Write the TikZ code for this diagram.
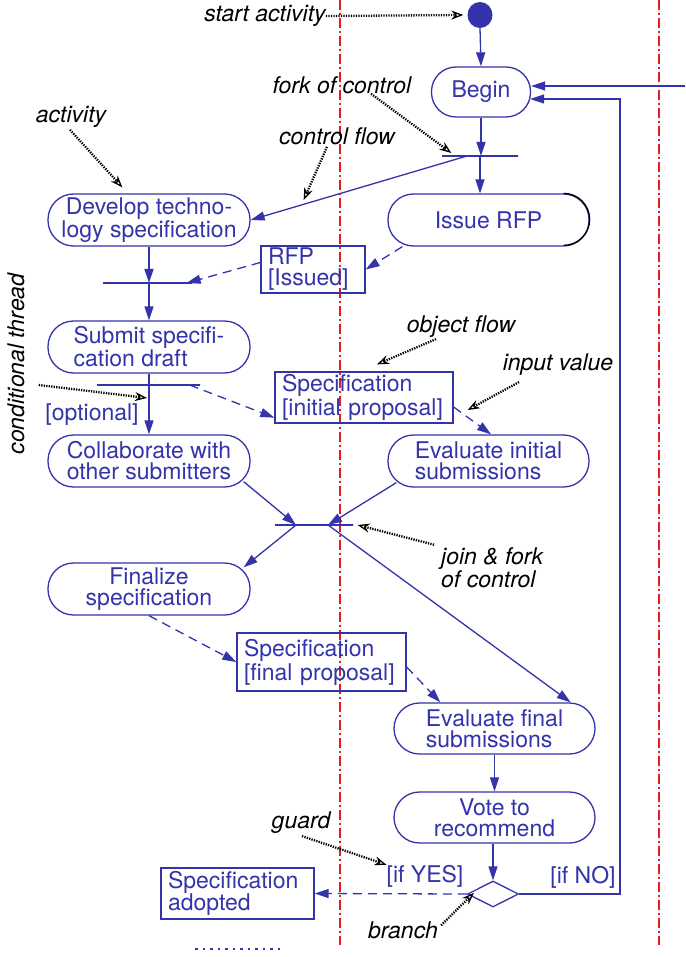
\documentclass[tikz,border=0pt]{standalone}
\usepackage{fontspec}
\setmainfont{TeX Gyre Heros}
\usetikzlibrary{arrows.meta,shapes.geometric,calc}
\definecolor{umlblue}{RGB}{51,51,170}
\definecolor{swred}{RGB}{225,30,30}
\tikzset{
  txt/.style={font=\fontsize{23}{21}\selectfont},
  act/.style={txt, draw=umlblue, line width=1.3pt, rounded corners=25.5pt, minimum width=202pt, minimum height=52pt, text=umlblue, align=center, inner sep=2pt},
  obj/.style={txt, draw=umlblue, line width=1.3pt, text=umlblue, align=left, inner xsep=7pt, inner ysep=2pt},
  bar/.style={draw=umlblue, line width=1.3pt, minimum height=0pt, inner sep=0pt},
  flow/.style={umlblue, line width=1.3pt, -{Triangle[length=14pt,width=9pt]}},
  oflow/.style={flow, dash pattern=on 9pt off 6pt},
  note/.style={font=\fontsize{23}{23}\selectfont\itshape, inner sep=0pt},
  guardtxt/.style={txt, text=umlblue, inner sep=0pt},
  pointer/.style={black, line width=2.3pt, dash pattern=on 1.3pt off 1.2pt, -{Stealth[open,length=12pt,width=9pt,line width=1.3pt]}},
  lane/.style={swred, line width=1.3pt, dash pattern=on 10pt off 3pt on 2pt off 3pt}
}
\begin{document}
\begin{tikzpicture}[x=1pt,y=-1pt]
\useasboundingbox (0,0) rectangle (685,957);
% swimlane separators
\draw[lane] (340,0) -- (340,945);
\draw[lane] (659,0) -- (659,945);

% activity nodes
\node[ellipse, fill=umlblue, minimum width=25pt, minimum height=26pt, inner sep=0pt] (start) at (480,15) {};
\node[act, minimum width=99pt, minimum height=50pt, rounded corners=24.5pt] (begin) at (481,92) {Begin};
\node[bar, minimum width=76pt] (fork1) at (480,156) {};
\node[act] (develop) at (149,220) {Develop techno-\\logy specification};
\node[act, minimum width=201pt] (issue) at (488.5,220) {Issue RFP};
\draw[black, line width=1.3pt] ($(issue.north east)+(-26,0)$) arc[start angle=90, end angle=-90, radius=26pt];
\node[bar, minimum width=89pt] (bar2) at (147.5,283) {};
\node[obj, text width=90pt, minimum height=47pt] (rfp) at (313,269.5) {RFP\\{[Issued]}};
\node[act, align=left] (submit) at (149,347) {Submit specifi-\\cation draft};
\node[bar, minimum width=103pt] (bar3) at (148.5,385) {};
\node[obj, text width=164pt, minimum height=51pt, font=\fontsize{23}{24}\selectfont] (spec1) at (364,397.5) {Specification\\{[initial proposal]}};
\node[act] (collab) at (149,461) {Collaborate with\\other submitters};
\node[act, minimum width=201pt, align=left] (evalinit) at (488.5,461) {Evaluate initial\\submissions};
\node[bar, minimum width=78pt] (join) at (314,525) {};
\node[act] (final) at (149,589) {Finalize\\specification};
\node[obj, text width=155pt, minimum height=58pt, font=\fontsize{23}{24}\selectfont] (spec2) at (321.5,662) {Specification\\{[final proposal]}};
\node[act, minimum width=201pt, minimum height=51pt, align=left] (evalfin) at (494.5,728.5) {Evaluate final\\submissions};
\node[act, minimum width=201pt, minimum height=51pt] (vote) at (494.5,817.5) {Vote to\\recommend};
\node[diamond, draw=umlblue, line width=1.3pt, minimum width=51pt, minimum height=26pt, inner sep=0pt] (branch) at (493,894) {};
\node[obj, text width=139pt, minimum height=51pt] (adopted) at (237.5,893.5) {Specification\\adopted};

% guards
\node[guardtxt] (opt) at (92,415) {[optional]};
\node[guardtxt] (ifyes) at (425,876) {[if YES]};
\node[guardtxt] (ifno) at (583,877) {[if NO]};

% control flows
\draw[flow] (start.south) -- (begin.north);
\draw[flow] (begin.south) -- (begin.south |- fork1.center);
\draw[flow] (fork1.center) -- (fork1.center |- issue.north);
\draw[flow] ($(fork1.center)+(-13,0)$) -- (develop.east);
\draw[flow] (develop.south) -- (develop.south |- bar2.center);
\draw[flow] (develop.south |- bar2.center) -- (submit.north);
\draw[flow] (submit.south) -- (collab.north);
\draw[flow] ($(collab.south east)+(-7,-6)$) -- ($(join.center)+(-18,0)$);
\draw[flow] ($(evalinit.south west)+(9,-5)$) -- ($(join.center)+(14,0)$);
\draw[flow] ($(join.center)+(-18,0)$) -- ($(final.north east)+(-7,5)$);
\draw[flow] ($(join.center)+(14,0)$) -- ($(evalfin.north east)+(-25,0)$);
\draw[flow] (evalfin.south) -- (vote.north);
\draw[flow] (branch.north |- vote.south) -- (branch.north);
\coordinate (loop) at (620,99);
\draw[flow] (branch.east) -| (loop) -- ($(begin.east)+(-1,7)$);
\coordinate (ext) at (685,86);
\draw[flow] (ext) -- ($(begin.east)+(0,-6)$);

% object flows
\draw[oflow] ($(issue.south west)+(15,0)$) -- (rfp.east);
\draw[oflow] ($(rfp.west)+(0,-7)$) -- ($(bar2.east)+(-6,0)$);
\draw[oflow] ($(bar3.east)+(-11,0)$) -- ($(spec1.south west)+(0,-6)$);
\draw[oflow] ($(spec1.east)+(0,9.5)$) -- ($(evalinit.north)+(2.5,0)$);
\draw[oflow] (final.south) -- (spec2.west);
\draw[oflow] ($(spec2.east)+(0,5)$) -- ($(evalfin.north west)+(47,0)$);
\draw[oflow] (branch.west) -- (adopted.east);

% annotations
\node[note] (lstart) at (265,16) {start activity};
\node[note] (lfork) at (342,85) {fork of control};
\node[note] (lact) at (71,117) {activity};
\node[note] (lcf) at (337,136) {control flow};
\node[note, rotate=90] (lcond) at (16,364) {conditional thread};
\node[note] (lobj) at (461,327) {object flow};
\node[note] (linput) at (558,365) {input value};
\node[note, anchor=west, align=left] (ljoin) at (441,568) {join \& fork\\of control};
\node[note] (lguard) at (301,823) {guard};
\node[note] (lbranch) at (403,930) {branch};

\draw[pointer] (lstart.east) -- ($(start.west)+(-4,0)$);
\draw[pointer] ($(lfork.south)+(29,0)$) -- ($(fork1.west)+(10,-3)$);
\draw[pointer] ($(lact.south)+(-1,2)$) -- ($(develop.north west)+(75,-6)$);
\draw[pointer] ($(lcf.south)+(-10,2)$) -- ($(develop.east)+(53,-20)$);
\draw[pointer] ($(lcond.south)+(14,21)$) -- ($(bar3.center)+(-1.5,13)$);
\draw[pointer] ($(lobj.south)+(-25,1)$) -- ($(spec1.north)+(13,-7)$);
\draw[pointer] ($(linput.south)+(-39,6)$) -- ($(spec1.east)+(14,12.5)$);
\draw[pointer] ($(ljoin.north west)+(-7,-3)$) -- ($(join.east)+(4,0)$);
\draw[pointer] ($(lguard.south)+(1,2)$) -- (ifyes.north west);
\draw[pointer] ($(lbranch.north east)+(3,4)$) -- ($(branch.south west)+(-6,-8)$);

% continuation
\draw[umlblue, line width=2.5pt, dash pattern=on 2.5pt off 5pt] (195,949) -- (280,949);
\end{tikzpicture}
\end{document}
